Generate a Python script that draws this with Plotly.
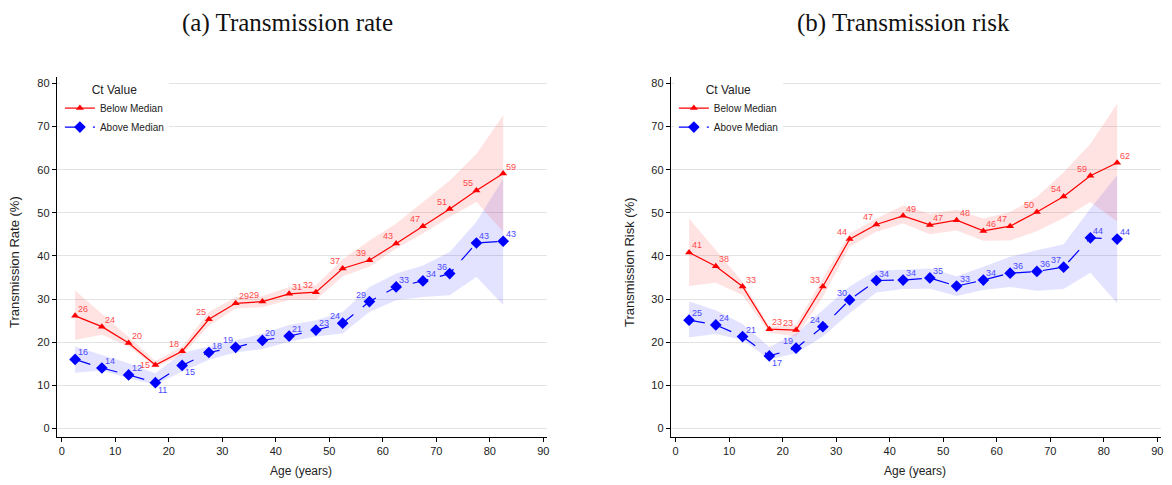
import plotly.graph_objects as go

ages = [2.5, 7.5, 12.5, 17.5, 22.5, 27.5, 32.5, 37.5, 42.5, 47.5, 52.5, 57.5, 62.5, 67.5, 72.5, 77.5, 82.5]

# (a) Transmission rate
rate_below = [26.1, 23.6, 19.8, 14.7, 17.9, 25.3, 29.0, 29.4, 31.2, 31.6, 37.1, 39.0, 42.9, 46.9, 50.9, 55.2, 59.1]
rate_below_lo = [20.5, 21.7, 19.0, 14.2, 17.0, 23.8, 27.8, 28.1, 29.8, 29.8, 35.3, 37.5, 41.7, 45.2, 49.0, 52.5, 45.6]
rate_below_hi = [32.0, 26.7, 21.2, 15.6, 19.0, 27.0, 30.4, 30.7, 32.8, 33.2, 39.2, 43.6, 47.5, 52.5, 57.5, 63.7, 72.6]
rate_above = [16.0, 14.0, 12.4, 10.6, 14.6, 17.6, 18.8, 20.4, 21.4, 22.8, 24.4, 29.4, 32.8, 34.2, 35.9, 43.0, 43.4]
rate_above_lo = [12.9, 13.4, 11.6, 10.1, 13.2, 15.9, 17.6, 18.4, 20.1, 21.3, 22.0, 27.0, 29.7, 30.5, 30.9, 35.1, 28.6]
rate_above_hi = [19.0, 17.0, 15.1, 12.8, 17.5, 19.0, 20.4, 22.0, 24.0, 25.1, 27.0, 32.8, 35.9, 37.8, 40.9, 47.9, 57.9]

# (b) Transmission risk
risk_below = [40.8, 37.6, 32.9, 23.0, 22.8, 32.9, 43.9, 47.3, 49.3, 47.2, 48.3, 45.8, 46.9, 50.2, 53.8, 58.6, 61.6]
risk_below_lo = [33.0, 33.8, 30.9, 22.2, 21.3, 30.5, 42.1, 45.6, 47.5, 45.0, 45.9, 43.5, 43.6, 45.7, 48.8, 52.5, 48.0]
risk_below_hi = [48.7, 41.4, 34.0, 23.7, 24.0, 34.8, 45.2, 48.7, 51.7, 49.8, 50.7, 48.7, 50.2, 53.7, 59.4, 66.0, 75.3]
risk_above = [25.1, 24.0, 21.3, 16.8, 18.6, 23.6, 29.8, 34.3, 34.4, 34.9, 33.0, 34.4, 36.0, 36.4, 37.4, 44.2, 43.9]
risk_above_lo = [21.1, 21.9, 20.5, 16.0, 17.4, 21.3, 26.7, 31.5, 32.3, 32.4, 30.7, 32.1, 32.8, 31.9, 32.3, 36.1, 29.0]
risk_above_hi = [29.4, 27.4, 24.2, 18.9, 22.0, 27.4, 32.9, 36.7, 36.8, 37.1, 35.3, 37.5, 39.8, 41.3, 42.7, 51.0, 58.7]

# label placement per point (TR = above right, TL = above left, BR = below right, ML = left)
rate_below_pos = ["TR", "TR", "TR", "ML", "TL", "TL", "TR", "TL", "TR", "TL", "TL", "TL", "TL", "TL", "TL", "TL", "TR"]
rate_above_pos = ["TR", "TR", "TR", "BR", "BR", "TR", "TL", "TR", "TR", "TR", "TL", "TL", "TR", "TR", "TL", "TR", "TR"]
risk_below_pos = ["TR", "TR", "TR", "TR", "TL", "TL", "TL", "TL", "TR", "TR", "TR", "TR", "TL", "TL", "TL", "TL", "TR"]
risk_above_pos = ["TR", "TR", "TR", "BR", "TL", "TL", "TL", "TR", "TR", "TR", "TR", "TR", "TR", "TR", "TL", "TR", "TR"]

titles = ["(a) Transmission rate", "(b) Transmission risk"]
ytitles = ["Transmission Rate (%)", "Transmission Risk (%)"]
xtitle = "Age (years)"
legend_title = "Ct Value"
series_names = ["Below Median", "Above Median"]

RED = "#ff0000"
BLUE = "#0000ff"
RED_TXT = "#ff4a4a"
BLUE_TXT = "#4a4aff"
RED_FILL = "rgba(255,0,0,0.11)"
BLUE_FILL = "rgba(0,0,255,0.11)"
SANS = "Liberation Sans, Arial, sans-serif"

W, H = 1172, 485
OFF = 8  # page body margin in the browser


def px_x(p):
    return (p - OFF) / W


def px_y(p):
    return 1 - (p - OFF) / H


fig = go.Figure()
annotations = []

panels = [
    (rate_below, rate_below_lo, rate_below_hi, rate_above, rate_above_lo, rate_above_hi, rate_below_pos, rate_above_pos),
    (risk_below, risk_below_lo, risk_below_hi, risk_above, risk_above_lo, risk_above_hi, risk_below_pos, risk_above_pos),
]

SHIFT = {
    "TR": dict(xanchor="left", yanchor="middle", xshift=2, yshift=7),
    "TL": dict(xanchor="right", yanchor="middle", xshift=-2, yshift=7),
    "BR": dict(xanchor="left", yanchor="middle", xshift=2, yshift=-7),
    "ML": dict(xanchor="right", yanchor="middle", xshift=-4, yshift=0),
}

for i, (rb, rbl, rbh, ra, ral, rah, rbp, rap) in enumerate(panels):
    xa = "x" if i == 0 else "x2"
    ya = "y" if i == 0 else "y2"
    lg = "legend" if i == 0 else "legend2"
    fig.add_trace(go.Scatter(x=ages + ages[::-1], y=rah + ral[::-1], fill="toself",
                             fillcolor=BLUE_FILL, line=dict(width=0), mode="lines",
                             hoverinfo="skip", showlegend=False, xaxis=xa, yaxis=ya))
    fig.add_trace(go.Scatter(x=ages + ages[::-1], y=rbh + rbl[::-1], fill="toself",
                             fillcolor=RED_FILL, line=dict(width=0), mode="lines",
                             hoverinfo="skip", showlegend=False, xaxis=xa, yaxis=ya))
    fig.add_trace(go.Scatter(x=ages, y=rb, mode="lines+markers", name=series_names[0],
                             line=dict(color=RED, width=1.2),
                             marker=dict(symbol="triangle-up", size=7, color=RED),
                             xaxis=xa, yaxis=ya, legend=lg))
    fig.add_trace(go.Scatter(x=ages, y=ra, mode="lines+markers", name=series_names[1],
                             line=dict(color=BLUE, width=1.2, dash="16px,12px"),
                             marker=dict(symbol="diamond", size=9, color=BLUE),
                             xaxis=xa, yaxis=ya, legend=lg))
    for vals, poss, col in ((rb, rbp, RED_TXT), (ra, rap, BLUE_TXT)):
        for xv, yv, p in zip(ages, vals, poss):
            annotations.append(dict(x=xv, y=yv, xref=xa, yref=ya, text=str(int(round(yv))),
                                    showarrow=False, borderpad=0,
                                    font=dict(family=SANS, size=9, color=col), **SHIFT[p]))

axis_common = dict(showline=True, linecolor="black", linewidth=1.2, ticks="outside",
                   ticklen=4, tickcolor="black", mirror=False, zeroline=False,
                   tickfont=dict(family=SANS, size=11, color="#222"))

legend_common = dict(xanchor="left", yanchor="top", bgcolor="white",
                     title=dict(text=legend_title, side="top center", font=dict(size=12, color="#222")),
                     font=dict(family=SANS, size=10, color="#222"), tracegroupgap=0, itemwidth=30)

fig.update_layout(
    width=W, height=H, margin=dict(l=0, r=0, t=0, b=0),
    paper_bgcolor="white", plot_bgcolor="white",
    font=dict(family=SANS, color="#222"),
    xaxis=dict(domain=[px_x(57), px_x(548)], range=[-0.9, 90.7], tickvals=list(range(0, 91, 10)),
               showgrid=False, anchor="y", **axis_common),
    yaxis=dict(domain=[px_y(437), px_y(77)], range=[-2.0, 81.5], tickvals=list(range(0, 81, 10)),
               showgrid=True, gridcolor="#e3e3e3", gridwidth=1, anchor="x", **axis_common),
    xaxis2=dict(domain=[px_x(672), px_x(1163)], range=[-0.9, 90.7], tickvals=list(range(0, 91, 10)),
                showgrid=False, anchor="y2", **axis_common),
    yaxis2=dict(domain=[px_y(437), px_y(77)], range=[-2.0, 81.5], tickvals=list(range(0, 81, 10)),
                showgrid=True, gridcolor="#e3e3e3", gridwidth=1, anchor="x2", **axis_common),
    legend=dict(x=px_x(60), y=px_y(78), **legend_common),
    legend2=dict(x=px_x(675), y=px_y(78), **legend_common),
)

for cx, t in zip([288, 905], titles):
    annotations.append(dict(x=px_x(cx), y=1.0, xref="paper", yref="paper", text=t,
                            showarrow=False, xanchor="center", yanchor="top", borderpad=0,
                            font=dict(family="Liberation Serif, DejaVu Serif, serif", size=25, color="#111")))
for cx, t in zip([14, 630], ytitles):
    annotations.append(dict(x=px_x(cx), y=px_y(262), xref="paper", yref="paper", text=t,
                            showarrow=False, textangle=-90, xanchor="center", yanchor="middle",
                            font=dict(family=SANS, size=13, color="#222")))
for cx in [302, 917]:
    annotations.append(dict(x=px_x(cx), y=px_y(471), xref="paper", yref="paper", text=xtitle,
                            showarrow=False, xanchor="center", yanchor="middle",
                            font=dict(family=SANS, size=12, color="#222")))
fig.update_layout(annotations=annotations)

fig.write_html("out.html")
